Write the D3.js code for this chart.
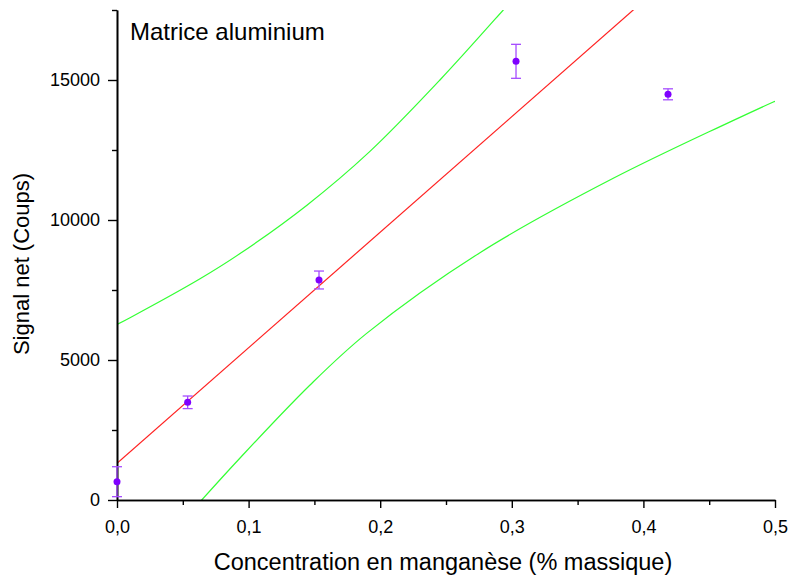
<!DOCTYPE html>
<html>
<head>
<meta charset="utf-8">
<script src="https://cdn.jsdelivr.net/npm/d3@7"></script>
<style>
  body { margin: 0; background: #fff; }
  text { font-family: "Liberation Sans", Arial, sans-serif; }
</style>
</head>
<body>
<svg id="chart"></svg>
<script>
// measured points (concentration % massique, net signal, error)
const conc   = [0, 0.0537, 0.1535, 0.3032, 0.4187];
const signal = [654, 3489, 7857, 15667, 14489];
const errs   = [535, 225, 320, 607, 196];

// linear fit, read at both ends of the x range
const fitLine = [[0, 1310], [0.5, 21945]];

// confidence band, points
const upperBand = [[0, 6268], [0.0099, 6510], [0.0631, 7900], [0.0935, 8800],
  [0.1441, 10520], [0.1922, 12450], [0.2454, 15000], [0.2935, 17500], [0.31, 18380]];
const lowerBand = [[0.055, -500], [0.0644, 0], [0.0935, 1500], [0.1467, 4107],
  [0.1897, 5950], [0.2758, 8833], [0.3771, 11488], [0.4987, 14214], [0.5, 14240]];

const xTicks = [0, 0.1, 0.2, 0.3, 0.4, 0.5];
const xMinorTicks = [0.05, 0.15, 0.25, 0.35, 0.45];
const yTicks = [0, 5000, 10000, 15000];
const yMinorTicks = [2500, 7500, 12500, 17500];

const W = 790, H = 578;
const m = {left: 117, right: 15, top: 10, bottom: 78};

const svg = d3.select("#chart").attr("width", W).attr("height", H);

const x = d3.scaleLinear().domain([0, 0.5]).range([m.left, W - m.right]);
const y = d3.scaleLinear().domain([0, 17500]).range([H - m.bottom, m.top]);

svg.append("clipPath").attr("id", "plot")
  .append("rect")
  .attr("x", m.left).attr("y", m.top)
  .attr("width", W - m.left - m.right).attr("height", H - m.top - m.bottom);

const line = d3.line().x(d => x(d[0])).y(d => y(d[1]));
const curve = d3.line().x(d => x(d[0])).y(d => y(d[1])).curve(d3.curveCatmullRom.alpha(0.5));

const g = svg.append("g").attr("clip-path", "url(#plot)");
g.append("path").attr("d", curve(upperBand))
  .attr("fill", "none").attr("stroke", "#33ff33").attr("stroke-width", 1.2);
g.append("path").attr("d", curve(lowerBand))
  .attr("fill", "none").attr("stroke", "#33ff33").attr("stroke-width", 1.2);
g.append("path").attr("d", line(fitLine))
  .attr("fill", "none").attr("stroke", "#ff2020").attr("stroke-width", 1.2);

// axes
const fmt = d => d3.format(".1f")(d).replace(".", ",");
const xAxis = d3.axisBottom(x).tickValues(xTicks).tickFormat(fmt).tickSize(8).tickSizeOuter(0);
const xMinor = d3.axisBottom(x).tickValues(xMinorTicks).tickFormat("").tickSize(5).tickSizeOuter(0);
const yAxis = d3.axisLeft(y).tickValues(yTicks).tickFormat(d3.format("d")).tickSize(9).tickSizeOuter(0);
const yMinor = d3.axisLeft(y).tickValues(yMinorTicks).tickFormat("").tickSize(5).tickSizeOuter(0);

function style(sel) {
  sel.select(".domain").attr("stroke", "#000").attr("stroke-width", 1.6);
  sel.selectAll(".tick line").attr("stroke", "#000").attr("stroke-width", 1.4);
  sel.selectAll(".tick text").attr("fill", "#000").style("font-size", "18px")
    .style("font-family", "Liberation Sans, Arial, sans-serif");
}

svg.append("g").attr("transform", `translate(0,${H - m.bottom})`).call(xMinor).call(style);
svg.append("g").attr("transform", `translate(0,${H - m.bottom})`).call(xAxis).call(style)
  .selectAll(".tick text").attr("y", 33).attr("dy", 0);
svg.append("g").attr("transform", `translate(${m.left},0)`).call(yMinor).call(style);
svg.append("g").attr("transform", `translate(${m.left},0)`).call(yAxis).call(style)
  .selectAll(".tick text").attr("x", -17);

// error bars and points
const pts = conc.map((c, i) => ({c, s: signal[i], e: errs[i]}));
const eb = svg.append("g").attr("stroke", "#a64dff").attr("stroke-width", 1.3);
eb.selectAll(".v").data(pts).join("line")
  .attr("x1", d => x(d.c)).attr("x2", d => x(d.c))
  .attr("y1", d => y(d.s - d.e)).attr("y2", d => y(d.s + d.e));
eb.selectAll(".t").data(pts).join("line")
  .attr("x1", d => x(d.c) - 5).attr("x2", d => x(d.c) + 5)
  .attr("y1", d => y(d.s + d.e)).attr("y2", d => y(d.s + d.e));
eb.selectAll(".b").data(pts).join("line")
  .attr("x1", d => x(d.c) - 5).attr("x2", d => x(d.c) + 5)
  .attr("y1", d => y(d.s - d.e)).attr("y2", d => y(d.s - d.e));
svg.append("g").selectAll("circle").data(pts).join("circle")
  .attr("cx", d => x(d.c)).attr("cy", d => y(d.s)).attr("r", 3.5)
  .attr("fill", "#7f00ff");

// labels
svg.append("text").attr("x", 130).attr("y", 40).text("Matrice aluminium")
  .style("font-size", "24px").attr("fill", "#000");
svg.append("text").attr("x", 443).attr("y", 570)
  .attr("text-anchor", "middle").style("font-size", "23.5px")
  .text("Concentration en manganèse (% massique)");
svg.append("text").attr("transform", "translate(29,264) rotate(-90)")
  .attr("text-anchor", "middle").style("font-size", "22px")
  .text("Signal net (Coups)");
</script>
</body>
</html>
